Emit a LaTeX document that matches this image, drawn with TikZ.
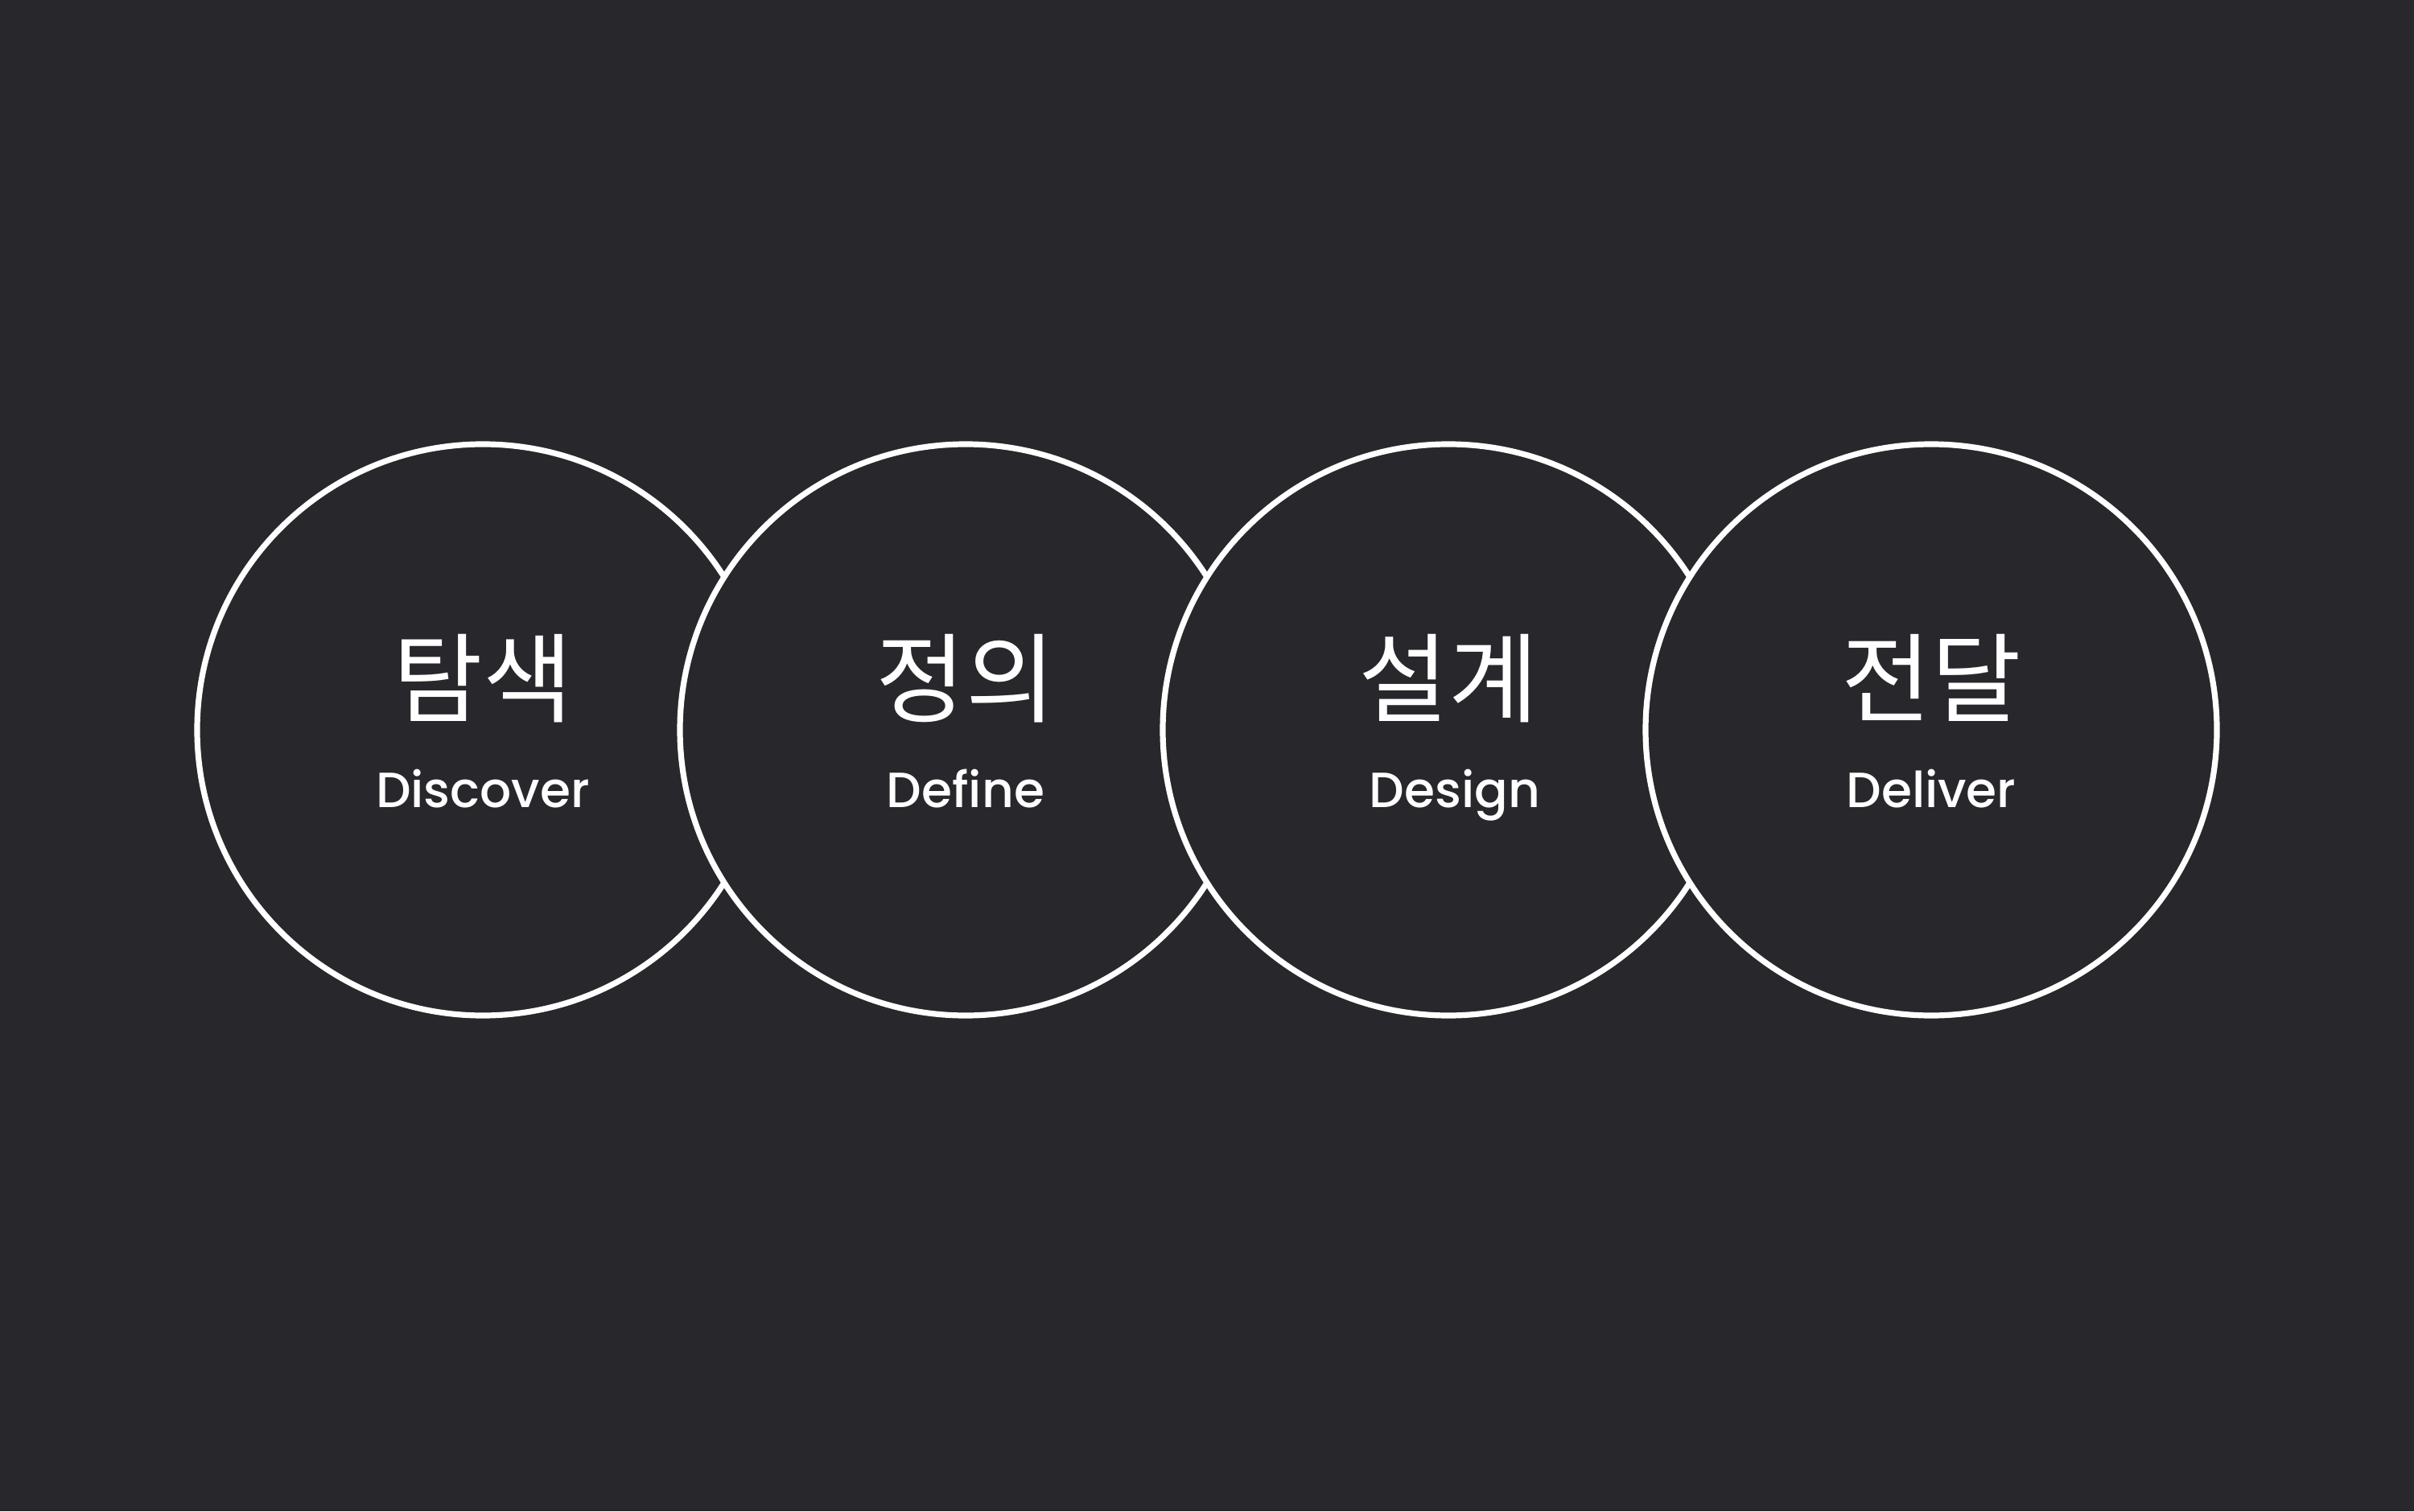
\documentclass[tikz,border=0pt]{standalone}
\usepackage{fontspec}
\newfontfamily\krfont{Noto Sans CJK KR}
\newfontfamily\enfont{Poppins}[UprightFont=* Medium]
\definecolor{bgdark}{RGB}{40,39,44}

\tikzset{
  stage/.style={circle,draw=white,fill=bgdark,line width=.072cm,minimum size=7.1cm,inner sep=0pt},
  krlabel/.style={text=white,anchor=base,inner sep=0pt,font=\krfont\fontsize{34.5}{34.5}\selectfont},
  enlabel/.style={text=white,anchor=base,inner sep=0pt,font=\enfont\fontsize{17.5}{17.5}\selectfont}
}

\begin{document}
\begin{tikzpicture}
    \fill[bgdark] (0,0) rectangle (30,18.78);
    \useasboundingbox (0,0) rectangle (30,18.78);
    % the four stages, each one laid over the one before
    \node[stage] (discover) at (6,9.71) {};
    \node[stage] (define) at (12,9.71) {};
    \node[stage] (design) at (18,9.71) {};
    \node[stage] (deliver) at (24,9.71) {};
    % labels
    \node[krlabel] (discoverkr) at ([yshift=0.19cm]discover.center) {탐색};
    \node[enlabel] (discoveren) at ([yshift=-0.96cm]discover.center) {Discover};
    \node[krlabel] (definekr) at ([yshift=0.19cm]define.center) {정의};
    \node[enlabel] (defineen) at ([yshift=-0.96cm]define.center) {Define};
    \node[krlabel] (designkr) at ([yshift=0.19cm]design.center) {설계};
    \node[enlabel] (designen) at ([xshift=0.08cm,yshift=-0.96cm]design.center) {Design};
    \node[krlabel] (deliverkr) at ([yshift=0.19cm]deliver.center) {전달};
    \node[enlabel] (deliveren) at ([yshift=-0.96cm]deliver.center) {Deliver};
\end{tikzpicture}
\end{document}
